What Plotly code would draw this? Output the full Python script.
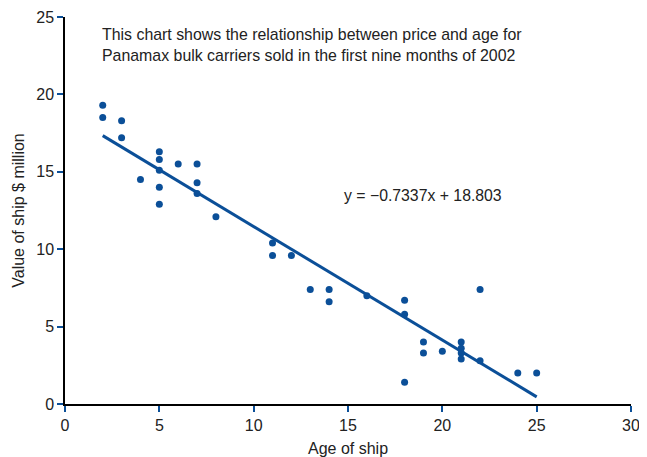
import numpy as np
import plotly.graph_objects as go

# Age of ship (years) and value ($ million)
age = [2, 2, 3, 3, 4, 5, 5, 5, 5, 5, 6, 7, 7, 7, 8, 11, 11, 12, 13, 14, 14, 16,
       18, 18, 18, 19, 19, 20, 21, 21, 21, 21, 22, 22, 24, 25]
value = [19.3, 18.5, 18.3, 17.2, 14.5, 16.3, 15.8, 15.1, 14.0, 12.9, 15.5, 15.5, 14.3, 13.6,
         12.1, 10.4, 9.6, 9.6, 7.4, 7.4, 6.6, 7.0, 6.7, 5.8, 1.4, 4.0, 3.3, 3.4, 4.0, 3.6,
         3.3, 2.9, 7.4, 2.8, 2.0, 2.0]

# regression line as printed on the chart
slope = -0.7337
intercept = 18.803
fit_x = np.array([2, 25])
fit_y = slope * fit_x + intercept

blue = '#0b4f98'
font = 'Liberation Sans, Arial, sans-serif'

fig = go.Figure()
fig.add_trace(go.Scatter(x=fit_x, y=fit_y, mode='lines',
                         line=dict(color=blue, width=3), hoverinfo='skip'))
fig.add_trace(go.Scatter(x=age, y=value, mode='markers',
                         marker=dict(color=blue, size=7)))

fig.add_annotation(x=1.85, y=24.55, xref='x', yref='y', xanchor='left', yanchor='top',
                   align='left', showarrow=False,
                   text='This chart shows the relationship between price and age for<br>'
                        'Panamax bulk carriers sold in the first nine months of 2002',
                   font=dict(size=15.9, color='#222'))
fig.add_annotation(x=14.7, y=13.5, xref='x', yref='y', xanchor='left', showarrow=False,
                   text='y = \u22120.7337x + 18.803', font=dict(size=15.8, color='#222'))

axis_style = dict(showgrid=False, zeroline=False, showline=True, linecolor='black', linewidth=1.5,
                  ticks='outside', tickcolor=blue, ticklen=6, tickwidth=1.5, automargin=False,
                  tickfont=dict(size=16, color='#222'))

# page body has an 8px margin, so the figure is sized to fit the window
fig.update_layout(
    width=639, height=449,
    margin=dict(l=57, r=16, t=9, b=53),
    plot_bgcolor='white', paper_bgcolor='white',
    showlegend=False,
    font=dict(family=font, color='#222'),
    xaxis=dict(range=[0, 30], dtick=5, title=dict(text='Age of ship', font=dict(size=16), standoff=10),
               **axis_style),
    yaxis=dict(range=[0, 25], dtick=5, title=dict(text='Value of ship $ million', font=dict(size=16), standoff=8),
               **axis_style),
)

fig.write_html('out.html')
